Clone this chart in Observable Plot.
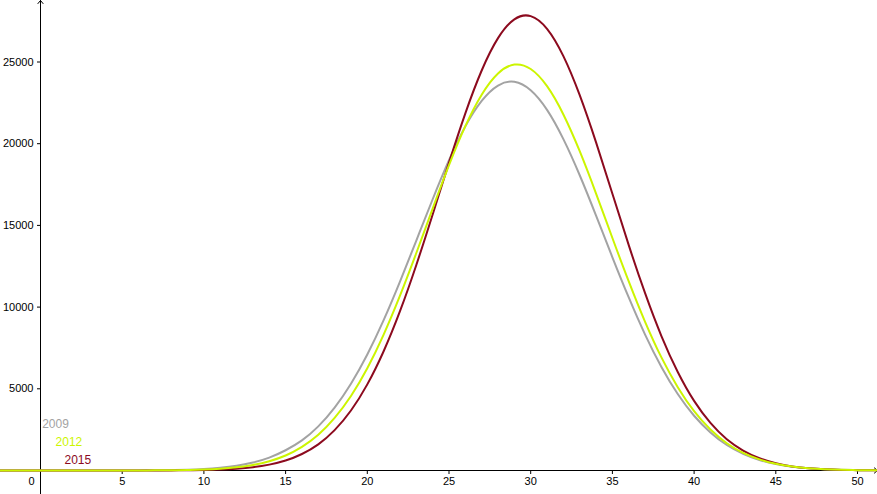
<!DOCTYPE html>
<html>
<head>
<meta charset="utf-8">
<script src="https://cdn.jsdelivr.net/npm/d3@7"></script>
<script src="https://cdn.jsdelivr.net/npm/@observablehq/plot@0.6"></script>
<style>
html,body{margin:0;padding:0;background:#fff;overflow:hidden}
#chart svg{display:block}
</style>
</head>
<body>
<div id="chart"></div>
<script>
// x values (age) at which the curves were read
const ages = [-3,-2,-1,0,1,2,3,4,5,6,7,8,9,10,11,12,13,14,15,16,17,18,19,20,21,22,23,24,25,26,27,28,29,30,31,32,33,34,35,36,37,38,39,40,41,42,43,44,45,46,47,48,49,50,51,52];
const years = ["2009", "2012", "2015"];
const colors = ["#a3a3a3", "#ccf500", "#8c0a1e"];

const values2009 = [0,0,0,0,0,0,0,1,3,7,14,28,52,95,170,290,490,790,1240,1840,2700,3850,5310,7100,9200,11560,14070,16600,18990,21060,22620,23560,23790,23270,22070,20280,18070,15600,13050,10590,8320,6340,4680,3350,2330,1560,1020,640,390,230,135,75,41,21,11,5];
const values2012 = [0,0,0,0,0,0,0,1,2,4,8,16,32,60,110,200,340,570,920,1450,2190,3220,4560,6260,8320,10700,13310,16030,18690,21080,23000,24300,24840,24570,23520,21790,19540,16950,14230,11570,9100,6920,5100,3630,2510,1670,1080,680,410,240,135,74,39,20,10,5];
const values2015 = [0,0,0,0,0,0,0,0,1,1,3,7,14,29,57,110,200,360,610,1010,1600,2470,3670,5270,7300,9750,12580,15670,18840,21860,24480,26460,27610,27810,27030,25360,22970,20080,16940,13790,10850,8230,6030,4260,2910,1910,1220,750,440,250,140,74,38,19,9,4];

const xTicks = [5, 10, 15, 20, 25, 30, 35, 40, 45, 50];
const yTicks = [5000, 10000, 15000, 20000, 25000];

const seriesValues = [values2009, values2012, values2015];
const rows = years.map((yr, i) => ages.map((a, j) => ({year: yr, age: a, value: seriesValues[i][j]})));

const W = 877, H = 494;
const mL = 40, mB = 24;
const xMax = (W - mL) / 16.34;          // right edge of the view in data units
const yMax = (H - mB) / 16.34 * 1000;   // top edge of the view in data units
const xMin = -mL / 16.34;               // left edge (axis continues left of origin)
const yMin = -mB / 16.34 * 1000;        // bottom edge

const font = "'Liberation Sans', Arial, sans-serif";

const lineOpts = (i) => ({x: "age", y: "value", stroke: colors[i], strokeWidth: 2, curve: "natural"});

const chart = Plot.plot({
  width: W,
  height: H,
  marginLeft: mL,
  marginRight: 0,
  marginTop: 0,
  marginBottom: mB,
  style: {fontFamily: font, fontSize: "11px", background: "#fff", color: "#000"},
  x: {domain: [0, xMax]},
  y: {domain: [0, yMax]},
  marks: [
    // axis lines with arrows
    Plot.arrow([0], {x1: xMin, x2: xMax, y1: 0, y2: 0, stroke: "#000", strokeWidth: 1, headLength: 6, headAngle: 80}),
    Plot.arrow([0], {x1: 0, x2: 0, y1: yMin, y2: yMax, stroke: "#000", strokeWidth: 1, headLength: 6, headAngle: 80}),
    Plot.axisX({ticks: xTicks, tickSize: 4, tickPadding: 3, label: null, stroke: "#000", fill: "#000", fontSize: 11}),
    Plot.axisY({ticks: yTicks, tickSize: 3, tickPadding: 4, label: null, tickFormat: d3.format("d"), stroke: "#000", fill: "#000", fontSize: 11}),
    Plot.text(["0"], {x: 0, y: 0, text: d => d, dx: -9, dy: 11, fill: "#000", fontSize: 11}),
    // curves
    Plot.line(rows[0], lineOpts(0)),
    Plot.line(rows[2], lineOpts(2)),
    Plot.line(rows[1], lineOpts(1)),
    // labels
    Plot.text([years[0]], {x: 0.1, y: 2830, text: d => d, fill: colors[0], textAnchor: "start", fontSize: 12}),
    Plot.text([years[1]], {x: 0.92, y: 1760, text: d => d, fill: colors[1], textAnchor: "start", fontSize: 12}),
    Plot.text([years[2]], {x: 1.47, y: 655, text: d => d, fill: colors[2], textAnchor: "start", fontSize: 12})
  ]
});

document.getElementById("chart").appendChild(chart);
</script>
</body>
</html>
